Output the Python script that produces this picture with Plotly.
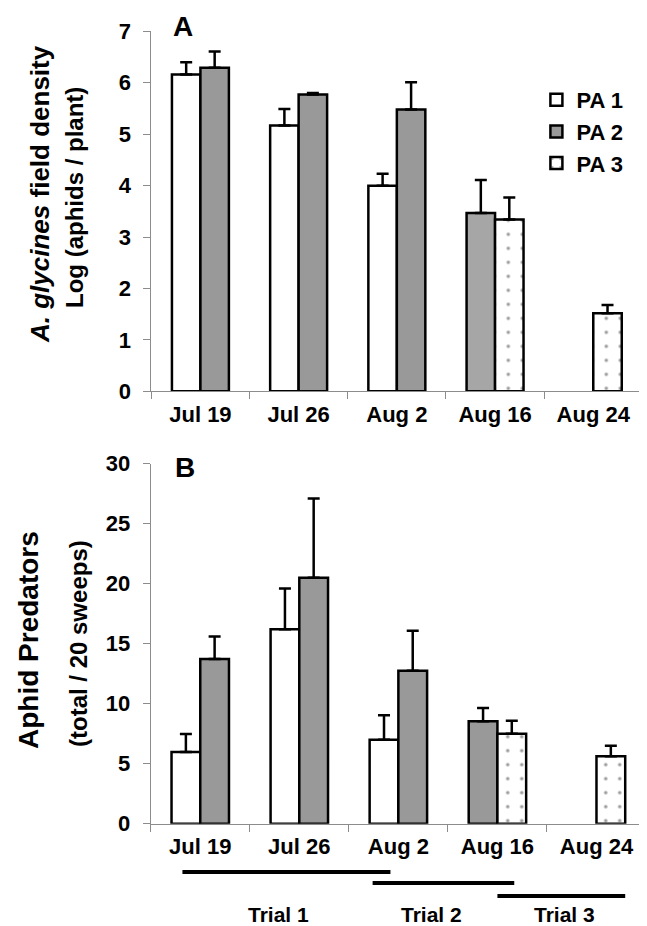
import plotly.graph_objects as go

# sampling dates
dates = ["Jul 19", "Jul 26", "Aug 2", "Aug 16", "Aug 24"]

# panel A: log (aphids / plant), mean and upper SE
pa1_a = [6.16, 5.17, 4.00, None, None]
pa1_a_se = [0.24, 0.32, 0.23, None, None]
pa2_a = [6.29, 5.77, 5.48, 3.47, None]
pa2_a_se = [0.32, 0.03, 0.53, 0.64, None]
pa3_a = [None, None, None, 3.34, 1.52]
pa3_a_se = [None, None, None, 0.43, 0.16]

# panel B: aphid predators (total / 20 sweeps)
pa1_b = [5.97, 16.2, 7.0, None, None]
pa1_b_se = [1.5, 3.4, 2.03, None, None]
pa2_b = [13.72, 20.5, 12.75, 8.53, None]
pa2_b_se = [1.88, 6.6, 3.33, 1.11, None]
pa3_b = [None, None, None, 7.5, 5.62]
pa3_b_se = [None, None, None, 1.08, 0.88]

# which of the two slots each field sits in on each date
pa1_slot = ["L", "L", "L", None, None]
pa2_slot = ["R", "R", "R", "L", None]
pa3_slot = [None, None, None, "R", "R"]

trials = ["Trial 1", "Trial 2", "Trial 3"]
trial_spans = [(-0.18, 1.92), (1.74, 3.17), (3.0, 4.29)]

FONT = "Liberation Sans, Arial, sans-serif"
W = 0.29  # bar width in category units
GRAY = "#999999"


def offsets(slots):
    return [-W if s == "L" else 0 for s in slots]


def bar(name, y, se, slots, color, xa, ya, showlegend, pattern=None):
    marker = dict(color=color, line=dict(color="black", width=2.5))
    if pattern:
        marker["pattern"] = pattern
    return go.Bar(
        x=dates, y=y, name=name, width=W, offset=offsets(slots),
        marker=marker, xaxis=xa, yaxis=ya, showlegend=showlegend,
        error_y=dict(type="data", array=se, arrayminus=[0] * len(se),
                     symmetric=False, color="black", thickness=2.5, width=6),
    )


dots = dict(shape=".", fgcolor="#3a3a3a", bgcolor="white", size=14,
            solidity=0.05, fillmode="overlay")

fig = go.Figure()
fig.add_trace(bar("PA 1", pa1_a, pa1_a_se, pa1_slot, "white", "x", "y", True))
fig.add_trace(bar("PA 2", pa2_a, pa2_a_se, pa2_slot,
                  [GRAY, GRAY, GRAY, "#a6a6a6", GRAY], "x", "y", True))
fig.add_trace(bar("PA 3", pa3_a, pa3_a_se, pa3_slot, "white", "x", "y", True, dots))
fig.add_trace(bar("PA 1", pa1_b, pa1_b_se, pa1_slot, "white", "x2", "y2", False))
fig.add_trace(bar("PA 2", pa2_b, pa2_b_se, pa2_slot, GRAY, "x2", "y2", False))
fig.add_trace(bar("PA 3", pa3_b, pa3_b_se, pa3_slot, "white", "x2", "y2", False, dots))

axis_common = dict(showline=True, linecolor="#8c8c8c", linewidth=1,
                   ticks="outside", tickcolor="#8c8c8c", ticklen=7,
                   showgrid=False, zeroline=False, automargin=False,
                   tickfont=dict(family=FONT, size=22, color="black", weight="bold"))

fig.update_layout(
    width=647, height=926,
    margin=dict(l=0, r=0, t=0, b=0),
    paper_bgcolor="white", plot_bgcolor="white",
    barmode="overlay",
    font=dict(family=FONT, color="black"),
    xaxis=dict(domain=[0.2215, 0.9805], anchor="y", tickson="boundaries",
               ticklabelstandoff=3, **axis_common),
    yaxis=dict(domain=[0.586, 0.9748], anchor="x", range=[0, 7], dtick=1,
               ticklabelstandoff=8, **axis_common),
    xaxis2=dict(domain=[0.2206, 0.9861], anchor="y2", tickson="boundaries",
                ticklabelstandoff=3, **axis_common),
    yaxis2=dict(domain=[0.1191, 0.5079], anchor="x2", range=[0, 30], dtick=5,
                ticklabelstandoff=8, **axis_common),
    legend=dict(x=0.8167, y=0.9233, xanchor="left", yanchor="top",
                font=dict(family=FONT, size=22, weight="bold"),
                bgcolor="rgba(0,0,0,0)"),
)

# y-axis titles, panel letters
notes = [
    ("<i>A. glycines</i> field density", 32, 186, 26, -90),
    ("Log (aphids / plant)", 66, 190, 24, -90),
    ("Aphid Predators", 20, 632, 28, -90),
    ("(total / 20 sweeps)", 70, 636, 24, -90),
    ("A", 175, 19, 28, 0),
    ("B", 177, 459, 28, 0),
]
for txt, px, py, size, ang in notes:
    fig.add_annotation(text=txt, x=px / 647, y=1 - py / 926, xref="paper", yref="paper",
                       showarrow=False, textangle=ang, xanchor="center", yanchor="middle",
                       font=dict(family=FONT, size=size, color="black", weight="bold"))

# trial spans under panel B
line_y = [864, 875, 888]
label_x = [0.79, 2.33, 3.68]
for name, (x0, x1), ly, lx in zip(trials, trial_spans, line_y, label_x):
    fig.add_shape(type="line", xref="x2", yref="paper", x0=x0, x1=x1,
                  y0=1 - ly / 926, y1=1 - ly / 926, line=dict(color="black", width=4))
    fig.add_annotation(text=name, x=lx, y=1 - 906 / 926, xref="x2", yref="paper",
                       showarrow=False, xanchor="center", yanchor="middle", borderpad=0,
                       font=dict(family=FONT, size=21, color="black", weight="bold"))

fig.write_html("out.html")
